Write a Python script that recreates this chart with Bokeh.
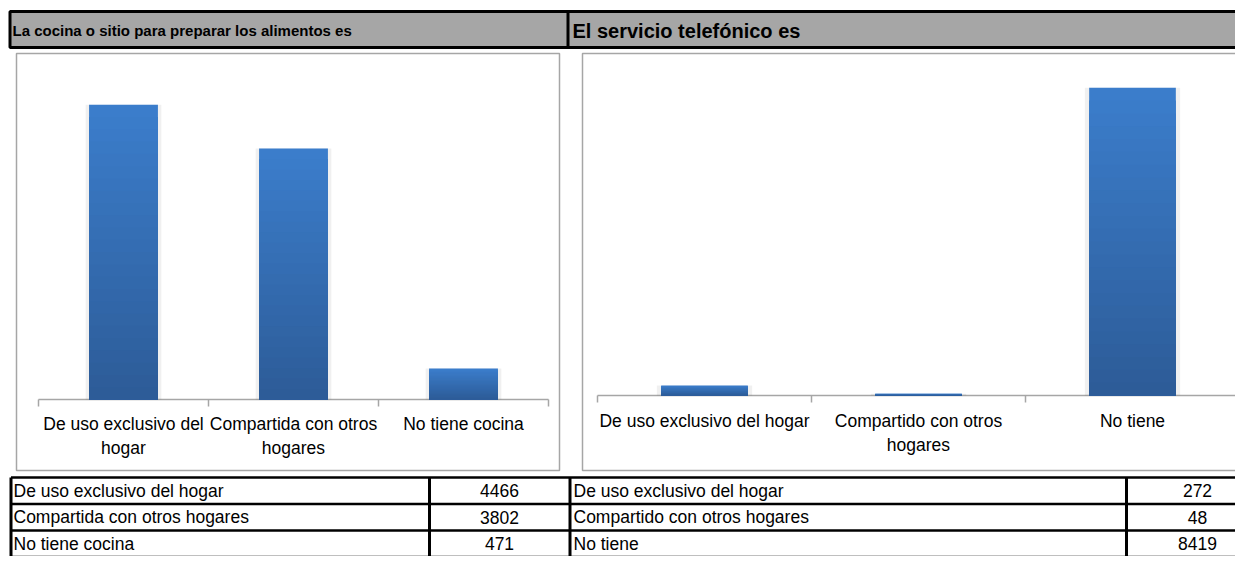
from bokeh.plotting import figure
from bokeh.models import Range1d, ColumnDataSource
from bokeh.core.properties import value
from bokeh.embed import file_html
from bokeh.resources import INLINE

# ---------------- data ----------------
cocina_title = "La cocina o sitio para preparar los alimentos es"
cocina_categories = ["De uso exclusivo del hogar", "Compartida con otros hogares", "No tiene cocina"]
cocina_tick_labels = ["De uso exclusivo del\nhogar", "Compartida con otros\nhogares", "No tiene cocina"]
cocina_values = [4466, 3802, 471]

telefono_title = "El servicio telefónico es"
telefono_categories = ["De uso exclusivo del hogar", "Compartido con otros hogares", "No tiene"]
telefono_tick_labels = ["De uso exclusivo del hogar", "Compartido con otros\nhogares", "No tiene"]
telefono_values = [272, 48, 8419]

# ---------------- layout (figure pixel coordinates) ----------------
W, H = 1235, 556
PX0, PX1 = 0, W
PY0, PY1 = 0, H
FONT = value("Liberation Sans")

p = figure(width=W, height=H, x_range=Range1d(PX0, PX1), y_range=Range1d(PY1, PY0),
           output_backend="svg", toolbar_location=None, min_border=0,
           x_axis_type=None, y_axis_type=None)
p.outline_line_color = None
p.background_fill_color = "white"
p.border_fill_color = "white"

# header band
p.quad(left=[9.5], right=[1265], top=[11], bottom=[47], fill_color="#A6A6A6",
       line_color="black", line_width=3)
p.segment(x0=[567.5], y0=[11], x1=[567.5], y1=[47], line_color="black", line_width=3)
p.text(x=[12], y=[29.5], text=[cocina_title], text_font=FONT, text_font_size="15px",
       text_font_style="bold", text_baseline="middle", text_align="left", text_color="black")
p.text(x=[572], y=[30], text=[telefono_title], text_font=FONT, text_font_size="20px",
       text_font_style="bold", text_baseline="middle", text_align="left", text_color="black")

TOP_RGB = (59, 125, 203)
BOT_RGB = (45, 92, 152)
N_SLICES = 24
BAR_W = 0.405


def add_chart(name, x0, w, base, top, ymax, frame, labels, values, label_y):
    xr = Range1d((PX0 - x0) / w - 0.5, (PX1 - x0) / w - 0.5)
    yr = Range1d((base - PY1) * ymax / (base - top), (base - PY0) * ymax / (base - top))
    p.extra_x_ranges[name + "x"] = xr
    p.extra_y_ranges[name + "y"] = yr
    xn, yn = name + "x", name + "y"
    idx = list(range(len(values)))

    # chart frame
    fl, fr, ft, fb = frame
    p.quad(left=[fl], right=[fr], top=[ft], bottom=[fb], fill_color=None,
           line_color="#A6A6A6", line_width=1.5)

    # category axis line + ticks
    n = len(values)
    p.segment(x0=[-0.5], y0=[base], x1=[n - 0.5], y1=[base], x_range_name=xn,
              line_color="#A6A6A6", line_width=1.5)
    ticks = [k - 0.5 for k in range(n + 1)]
    p.segment(x0=ticks, y0=[base] * len(ticks), x1=ticks, y1=[base + 7] * len(ticks),
              x_range_name=xn, line_color="#A6A6A6", line_width=1.5)

    # soft shadow
    p.vbar(x=idx, top=values, width=BAR_W * 1.1, bottom=0, x_range_name=xn, y_range_name=yn,
           fill_color="#000000", fill_alpha=0.06, line_color=None)

    # gradient bars (per bar, light top -> dark bottom)
    xs, tops, cols = [], [], []
    for k in range(N_SLICES):
        f = (N_SLICES - k) / N_SLICES
        t = k / (N_SLICES - 1)
        c = tuple(int(round(TOP_RGB[j] + (BOT_RGB[j] - TOP_RGB[j]) * t)) for j in range(3))
        col = "#%02x%02x%02x" % c
        for i, v in enumerate(values):
            xs.append(i)
            tops.append(v * f)
            cols.append(col)
    src = ColumnDataSource(dict(x=xs, top=tops, color=cols))
    p.vbar(x="x", top="top", bottom=0, width=BAR_W, source=src, x_range_name=xn,
           y_range_name=yn, fill_color="color", line_color=None)

    # category labels
    p.text(x=idx, y=[label_y] * n, text=labels, x_range_name=xn, text_font=FONT,
           text_font_size="17.5px", text_align="center", text_baseline="top",
           text_line_height=1.2, text_color="black")


add_chart("c1", 38, 170, 399, 69, 5000, (16, 559, 53, 470), cocina_tick_labels, cocina_values, 413)
add_chart("c2", 597, 214, 395, 66, 9000, (582, 1249, 53, 470), telefono_tick_labels, telefono_values, 410)

# ---------------- tables ----------------
row_lines = [477, 503.5, 530, 556.5]
p.segment(x0=[10.5] * 4, y0=row_lines, x1=[1268] * 4, y1=row_lines, line_color="black", line_width=2.5)
col_lines = [10.5, 429, 569.5, 1126, 1268]
p.segment(x0=col_lines, y0=[477] * 5, x1=col_lines, y1=[560] * 5, line_color="black", line_width=3)

row_centers = [(row_lines[i] + row_lines[i + 1]) / 2 for i in range(3)]
p.text(x=[13] * 3, y=row_centers, text=cocina_categories, text_font=FONT, text_font_size="17.5px",
       text_align="left", text_baseline="middle", text_color="black")
p.text(x=[499] * 3, y=row_centers, text=[str(v) for v in cocina_values], text_font=FONT,
       text_font_size="17.5px", text_align="center", text_baseline="middle", text_color="black")
p.text(x=[573] * 3, y=row_centers, text=telefono_categories, text_font=FONT, text_font_size="17.5px",
       text_align="left", text_baseline="middle", text_color="black")
p.text(x=[1197] * 3, y=row_centers, text=[str(v) for v in telefono_values], text_font=FONT,
       text_font_size="17.5px", text_align="center", text_baseline="middle", text_color="black")

open("out.html", "w").write(file_html(p, INLINE))
